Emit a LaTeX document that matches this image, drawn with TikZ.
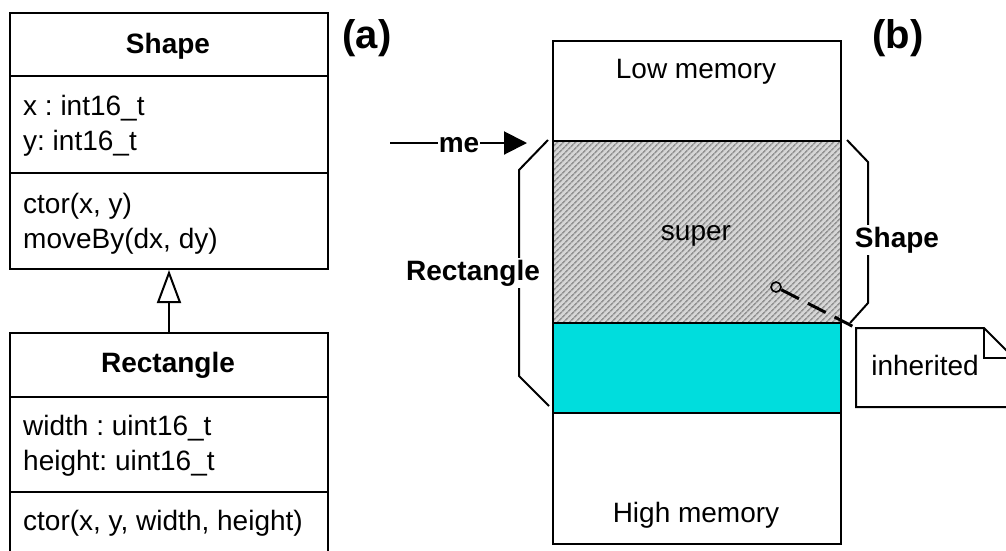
\documentclass[tikz,border=0pt]{standalone}
\usepackage{fontspec}
\setmainfont{Liberation Sans}
\usetikzlibrary{arrows.meta,patterns.meta}
\definecolor{derivcyan}{RGB}{0,221,221}
\frenchspacing
\tikzset{
  box/.style={draw, line width=2pt, inner sep=0pt, anchor=north west},
  txt/.style={inner sep=0pt, font=\fontsize{28}{35}\selectfont\frenchspacing},
  btxt/.style={inner sep=0pt, font=\fontsize{28}{35}\selectfont\bfseries},
  lbl/.style={inner sep=0pt, font=\fontsize{40}{48}\selectfont\bfseries},
  brace/.style={line width=2pt},
  wlbl/.style={btxt, fill=white, inner sep=2pt},
}
\begin{document}
\begin{tikzpicture}[x=1pt,y=-1pt]
\useasboundingbox (0,0) rectangle (1006,550);
\clip (0,0) rectangle (1006,550);

% ---------- (a) UML ----------
\node[box, minimum width=318pt, minimum height=256pt] (shape) at (9,12) {};
\draw[line width=2pt] (9,76) -- (327,76);
\draw[line width=2pt] (9,173) -- (327,173);
\node[btxt, anchor=base] (shapetitle) at (168,53) {Shape};
\node[txt, anchor=base west] (sx) at (23,115) {x : int16\_t};
\node[txt, anchor=base west] (sy) at (23,150) {y: int16\_t};
\node[txt, anchor=base west] (sctor) at (23,213) {ctor(x, y)};
\node[txt, anchor=base west] (smove) at (23,248) {moveBy(dx, dy)};

\node[box, minimum width=318pt, minimum height=240pt] (rect) at (9,332) {};
\draw[line width=2pt] (9,397) -- (327,397);
\draw[line width=2pt] (9,492) -- (327,492);
\node[btxt, anchor=base] (recttitle) at (168,372) {Rectangle};
\node[txt, anchor=base west] (rw) at (23,435) {width : uint16\_t};
\node[txt, anchor=base west] (rh) at (23,470) {height: uint16\_t};
\node[txt, anchor=base west] (rctor) at (23,530) {ctor(x, y, width, height)};

\draw[line width=2pt, -{Triangle[open, length=33pt, width=24pt, line width=2pt]}]
  (rect.north) -- (shape.south);

\node[lbl, anchor=base] (la) at (367,48) {(a)};
\node[lbl, anchor=base] (lb) at (898,48) {(b)};

% ---------- (b) memory ----------
\node[box, minimum width=288pt, minimum height=100pt] (low) at (552,40) {};
\fill[gray!32] (552,140) rectangle (840,322);
\pattern[pattern={Lines[angle=45,distance=4pt,line width=1.7pt]}, pattern color=gray!85]
  (552,140) rectangle (840,322);
\node[box, minimum width=288pt, minimum height=182pt] (super) at (552,140) {};
\node[box, fill=derivcyan, minimum width=288pt, minimum height=90pt] (deriv) at (552,322) {};
\node[box, minimum width=288pt, minimum height=131pt] (high) at (552,412) {};

\node[txt, anchor=base] (lowt) at (696,78) {Low memory};
\node[txt, anchor=base] (supert) at (696,240) {super};
\node[txt, anchor=base] (hight) at (696,522) {High memory};

% me pointer
\coordinate (mestart) at (390,143);
\coordinate (metip) at (527,143);
\draw[line width=2pt, -{Triangle[length=23pt, width=23pt]}] (mestart) -- (metip);
\node[btxt, fill=white, inner sep=1pt, anchor=base] (me) at (459,152) {me};

% Rectangle brace (left)
\draw[brace] (548,140) -- (519,170) -- (519,376) -- (549,406);
\node[wlbl, anchor=base] (rectlbl) at (473,280) {Rectangle};

% Shape brace (right)
\draw[brace] (847,140) -- (868,162) -- (868,303) -- (850,323);
\node[wlbl, anchor=base] (shapelbl) at (897,247) {Shape};

% note
\draw[line width=2pt, fill=white] (856,328) -- (984,328) -- (1014,358) -- (1014,407) -- (856,407) -- cycle;
\draw[line width=2pt] (984,328) -- (984,358) -- (1014,358);
\node[txt, anchor=base] (inh) at (925,375) {inherited};
\coordinate (notecorner) at (854,327);
\node[circle, draw, line width=1.6pt, minimum size=10pt, inner sep=0pt] (pin) at (776,287) {};
\draw[line width=3pt, dash pattern=on 20pt off 10pt] (pin) -- (notecorner);
\end{tikzpicture}
\end{document}
